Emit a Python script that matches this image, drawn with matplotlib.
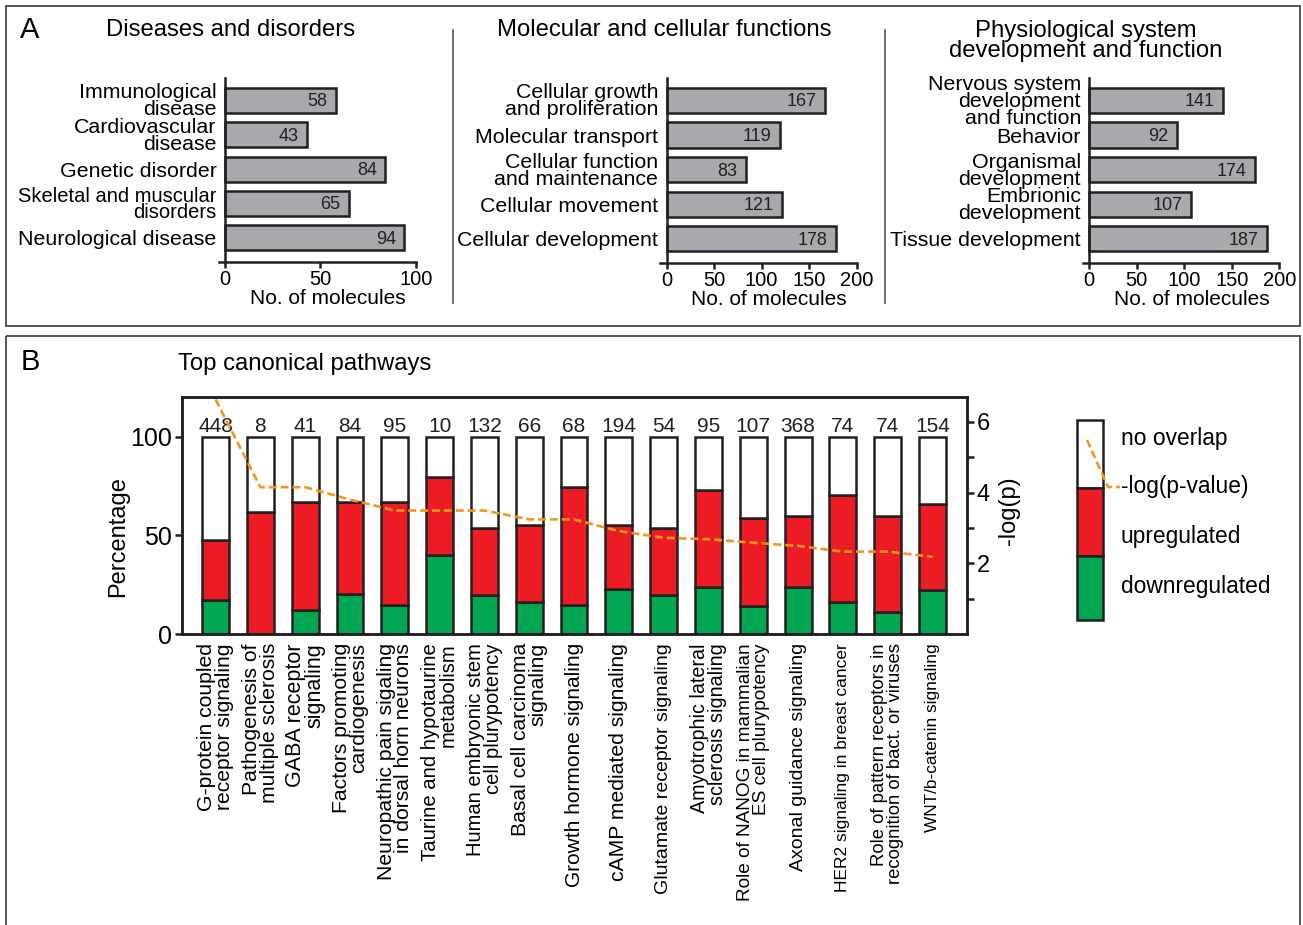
import numpy as np
import matplotlib
matplotlib.use("Agg")
import matplotlib.pyplot as plt
from matplotlib.patches import Rectangle
from matplotlib.lines import Line2D

plt.rcParams['font.family'] = ['Liberation Sans', 'DejaVu Sans']

W, H = 1303, 925
DPI = 100

# ---- Panel A: counts of molecules per category ----
dis_labels = ["Immunological\ndisease", "Cardiovascular\ndisease", "Genetic disorder",
              "Skeletal and muscular\ndisorders", "Neurological disease"]
dis_counts = [58, 43, 84, 65, 94]

mol_labels = ["Cellular growth\nand proliferation", "Molecular transport",
              "Cellular function\nand maintenance", "Cellular movement", "Cellular development"]
mol_counts = [167, 119, 83, 121, 178]

phy_labels = ["Nervous system\ndevelopment\nand function", "Behavior",
              "Organismal\ndevelopment", "Embrionic\ndevelopment", "Tissue development"]
phy_counts = [141, 92, 174, 107, 187]

# ---- Panel B: top canonical pathways ----
pathways = ["G-protein coupled\nreceptor signaling", "Pathogenesis of\nmultiple sclerosis",
            "GABA receptor\nsignaling", "Factors promoting\ncardiogenesis",
            "Neuropathic pain sigaling\nin dorsal horn neurons", "Taurine and hypotaurine\nmetabolism",
            "Human embryonic stem\ncell plurypotency", "Basal cell carcinoma\nsignaling",
            "Growth hormone signaling", "cAMP mediated signaling", "Glutamate receptor signaling",
            "Amyotrophic lateral\nsclerosis signaling", "Role of NANOG in mammalian\nES cell plurypotency",
            "Axonal guidance signaling", "HER2 signaling in breast cancer",
            "Role of pattern receptors in\nrecognition of bact. or viruses", "WNT/b-catenin signaling"]
pathway_totals = [448, 8, 41, 84, 95, 10, 132, 66, 68, 194, 54, 95, 107, 368, 74, 74, 154]
down_pct = [17, 0, 12, 20.5, 14.7, 40, 19.6, 16, 14.5, 22.8, 19.8, 23.6, 14, 23.6, 16.2, 11, 22.3]
up_pct = [30.6, 62, 55, 46.5, 52.3, 39.5, 34.3, 39, 60, 32.3, 34.1, 49.4, 44.5, 36.2, 54.1, 48.8, 43.7]
neg_log_p = [6.63, 4.15, 4.15, 3.80, 3.49, 3.49, 3.49, 3.24, 3.24, 2.91, 2.72, 2.68, 2.58,
             2.49, 2.33, 2.33, 2.18]

# long names are set in a tighter size so they fit the space they have
pathway_label_sizes = [15.2, 15.2, 15.5, 15.2, 15.2, 14.6, 14.5, 15.2, 15.0, 15.2,
                       14.0, 14.2, 13.7, 14.0, 12.5, 13.3, 12.4]
dis_label_sizes = [15.4, 15.4, 15.4, 14.5, 15.4]

EDGE = '#231F20'
GRAY = '#A7A9AC'
GREEN = '#00A651'
RED = '#ED1C24'
ORANGE = '#F7941D'
DASH = (0, (3, 1.5))

fig = plt.figure(figsize=(W / DPI, H / DPI), dpi=DPI)
fig.patch.set_facecolor('white')


def px_axes(left, top, right, bottom, **kw):
    return fig.add_axes([left / W, 1 - bottom / H, (right - left) / W, (bottom - top) / H], **kw)


def hbar_panel(ax, labels, counts, xmin, xmax, xticks, label_sizes=None):
    # spine position first: moving a spine rebuilds its ticks
    ax.spines['left'].set_position(('data', 0))
    y = np.arange(len(labels))
    ax.barh(y, counts, height=0.73, color=GRAY, edgecolor=EDGE, linewidth=1.8, zorder=2)
    ax.set_ylim(4.70, -0.65)
    ax.set_xlim(xmin, xmax)
    ax.set_xticks(xticks)
    ax.tick_params(axis='x', length=4, width=1.8, direction='out', labelsize=14.5, pad=2, color=EDGE)
    ax.tick_params(axis='y', length=0, pad=6, labelsize=15.4)
    ax.set_yticks(y)
    ax.set_yticklabels(labels, fontsize=15.4, linespacing=0.86)
    if label_sizes is not None:
        for lab, fs in zip(ax.get_yticklabels(), label_sizes):
            lab.set_fontsize(fs)
    for s in ('left', 'bottom'):
        ax.spines[s].set_linewidth(1.8)
        ax.spines[s].set_color(EDGE)
        ax.spines[s].set_zorder(3)
    ax.spines['top'].set_visible(False)
    ax.spines['right'].set_visible(False)
    for yi, c in zip(y, counts):
        ax.annotate(str(c), (c, yi), xytext=(-6, -1), textcoords='offset points',
                    ha='right', va='center', fontsize=13, color='#231F20', zorder=4)
    ax.set_xlabel('No. of molecules', fontsize=15, labelpad=0)
    ax.xaxis.label.set_x(0.555)
    ax.patch.set_alpha(0)


ax1 = px_axes(219.3, 78, 415.7, 262)
hbar_panel(ax1, dis_labels, dis_counts, -3, 100, [0, 50, 100], dis_label_sizes)

ax2 = px_axes(660, 78, 856.7, 263)
hbar_panel(ax2, mol_labels, mol_counts, -7, 200, [0, 50, 100, 150, 200])

ax3 = px_axes(1083.3, 78, 1279.3, 263)
hbar_panel(ax3, phy_labels, phy_counts, -6.3, 200, [0, 50, 100, 150, 200])

# ---- Panel B: stacked percentage bars with -log(p) line ----
axb = px_axes(182, 397, 967, 634)
x = np.arange(len(pathways))
down = np.array(down_pct)
up = np.array(up_pct)
none = 100 - down - up
bw = 0.6
axb.bar(x, down, width=bw, color=GREEN, edgecolor=EDGE, linewidth=1.8, zorder=2)
axb.bar(x, up, width=bw, bottom=down, color=RED, edgecolor=EDGE, linewidth=1.8, zorder=2)
axb.bar(x, none, width=bw, bottom=down + up, color='white', edgecolor=EDGE, linewidth=1.8, zorder=2)
for xi, t in zip(x, pathway_totals):
    axb.text(xi, 102.5, str(t), ha='center', va='baseline', fontsize=15, color='#231F20')
axb.set_xlim(-0.75, 16.77)
axb.set_ylim(0, 120)
axb.set_yticks([0, 50, 100])
axb.tick_params(axis='y', length=5, width=1.8, labelsize=18, pad=2, color=EDGE)
axb.tick_params(axis='x', length=0, pad=6.5)
axb.set_xticks(x)
axb.set_xticklabels(pathways, rotation=90, ha='center', va='top', multialignment='right',
                    fontsize=15, linespacing=0.9)
for lab, fs in zip(axb.get_xticklabels(), pathway_label_sizes):
    lab.set_fontsize(fs)
for s in axb.spines.values():
    s.set_linewidth(1.8)
    s.set_color(EDGE)
axb.text(-0.0815, 0.41, 'Percentage', rotation=90, ha='center', va='center',
         fontsize=17, transform=axb.transAxes)

axr = axb.twinx()
axr.plot(x, neg_log_p, color=ORANGE, linestyle=DASH, linewidth=1.9, zorder=5)
axr.set_ylim(0, 6.7)
axr.set_yticks([2, 4, 6])
axr.set_yticks([1, 3, 5], minor=True)
axr.tick_params(axis='y', which='both', length=5, width=1.8, labelsize=17, pad=2, color=EDGE)
for s in axr.spines.values():
    s.set_linewidth(1.8)
    s.set_color(EDGE)
axr.text(1.053, 0.52, '-log(p)', rotation=90, ha='center', va='center',
         fontsize=17, transform=axr.transAxes)

# ---- Overlay: panel frames, headings and the legend ----
ov = fig.add_axes([0, 0, 1, 1], zorder=10)
ov.set_xlim(0, W)
ov.set_ylim(H, 0)
ov.axis('off')

frame_kw = dict(fill=False, edgecolor='#3A3A3A', linewidth=1.2)
ov.add_patch(Rectangle((6, 6), 1294, 320, **frame_kw))
ov.add_patch(Rectangle((6, 336), 1294, 620, **frame_kw))
ov.add_line(Line2D([453, 453], [30, 303], color='#555555', linewidth=1.2))
ov.add_line(Line2D([885, 885], [30, 303], color='#555555', linewidth=1.2))

ov.text(30, 30, 'A', fontsize=21, ha='center', va='center')
ov.text(30, 362, 'B', fontsize=21, ha='center', va='center')
ov.text(231, 30, 'Diseases and disorders', fontsize=17.2, ha='center', va='center')
ov.text(664, 30, 'Molecular and cellular functions', fontsize=17.2, ha='center', va='center')
ov.text(1086, 41, 'Physiological system\ndevelopment and function', fontsize=17.2,
        ha='center', va='center', linespacing=0.9)
ov.text(178, 364, 'Top canonical pathways', fontsize=17.2, ha='left', va='center')

# legend column
lx, lw_ = 1077, 26
ov.add_patch(Rectangle((lx, 420), lw_, 68, facecolor='white', edgecolor=EDGE, linewidth=1.8))
ov.add_patch(Rectangle((lx, 488), lw_, 68, facecolor=RED, edgecolor=EDGE, linewidth=1.8))
ov.add_patch(Rectangle((lx, 556), lw_, 64, facecolor=GREEN, edgecolor=EDGE, linewidth=1.8))
ov.add_line(Line2D([1087, 1108, 1120], [440, 487, 487], color=ORANGE,
                   linestyle=DASH, linewidth=1.9))
for ty, txt in zip([438, 487, 537, 587], ['no overlap', '-log(p-value)', 'upregulated', 'downregulated']):
    ov.text(1121, ty, txt, fontsize=16.4, ha='left', va='center')

fig.savefig('out.png', dpi=DPI)
